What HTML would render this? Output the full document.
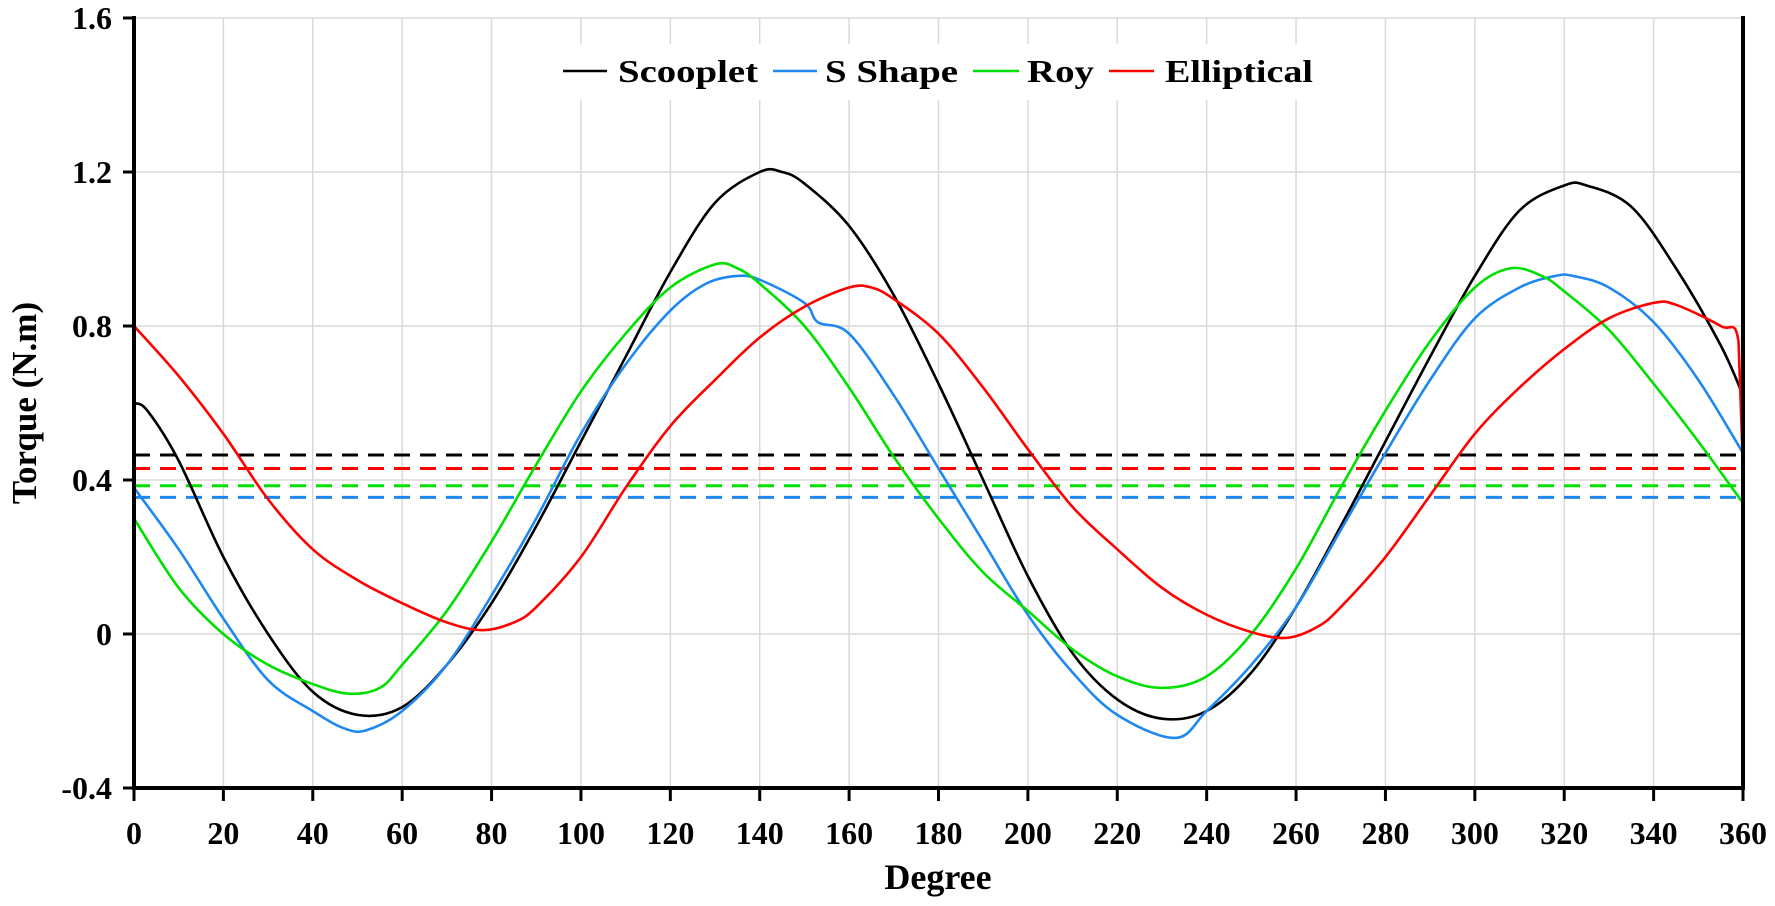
<!DOCTYPE html>
<html><head><meta charset="utf-8"><style>
html,body{margin:0;padding:0;background:#fff;}
svg{display:block;font-family:"Liberation Serif",serif;font-weight:bold;}
</style></head><body>
<svg id="c" width="1775" height="906" viewBox="0 0 1775 906" xmlns="http://www.w3.org/2000/svg">
<g id="grid" stroke="#d9d9d9" stroke-width="1.5"></g>
<g id="dash"></g>
<g id="series" fill="none" stroke-width="2.6" stroke-linejoin="round"></g>
<g id="axes"></g>
<rect x="545" y="44" width="790" height="56" fill="#fff"/>
<g font-size="32" font-family="Liberation Serif, serif" font-weight="bold">
<line x1="563" y1="71" x2="607" y2="71" stroke="#000" stroke-width="2.6"/>
<text x="618" y="82" textLength="140" lengthAdjust="spacingAndGlyphs">Scooplet</text>
<line x1="773" y1="71" x2="817" y2="71" stroke="#1e88f0" stroke-width="2.6"/>
<text x="825" y="82" textLength="133" lengthAdjust="spacingAndGlyphs">S Shape</text>
<line x1="973" y1="71" x2="1019" y2="71" stroke="#00e000" stroke-width="2.6"/>
<text x="1027" y="82" textLength="67" lengthAdjust="spacingAndGlyphs">Roy</text>
<line x1="1109" y1="71" x2="1154" y2="71" stroke="#ff0000" stroke-width="2.6"/>
<text x="1165" y="82" textLength="148" lengthAdjust="spacingAndGlyphs">Elliptical</text>
</g>
<text x="938" y="889" font-size="36" text-anchor="middle">Degree</text>
<text transform="translate(36,403) rotate(-90)" font-size="35" text-anchor="middle">Torque (N.m)</text>
</svg>
<script>
var X0=134,X1=1743,Y0=634,PY=385;
function sx(d){return X0+(X1-X0)*d/360;}
function sy(v){return Y0-v*PY;}
var NS="http://www.w3.org/2000/svg";
function el(p,t,a,txt){var e=document.createElementNS(NS,t);for(var k in a)e.setAttribute(k,a[k]);if(txt!==undefined)e.textContent=txt;document.getElementById(p).appendChild(e);return e;}
for(var d=20;d<=340;d+=20)el("grid","line",{x1:sx(d),x2:sx(d),y1:sy(1.6),y2:sy(-0.4)});
for(var v=-0.4;v<=1.61;v+=0.4){if(Math.abs(v+0.4)<1e-6)continue;el("grid","line",{x1:X0,x2:X1,y1:sy(v),y2:sy(v)});}
var dl=[[0.465,"#000"],[0.43,"#ff0000"],[0.385,"#00e000"],[0.355,"#1e88f0"]];
dl.forEach(function(q){el("dash","line",{x1:X0,x2:X1,y1:sy(q[0]),y2:sy(q[0]),stroke:q[1],"stroke-width":3,"stroke-dasharray":"16,10"});});
var S={
"#000":[[0,0.6],[3,0.58],[10,0.45],[20,0.2],[30,0.0],[40,-0.15],[50,-0.21],[60,-0.19],[70,-0.08],[80,0.08],[90,0.28],[100,0.5],[110,0.72],[120,0.94],[130,1.12],[140,1.2],[145,1.2],[150,1.17],[160,1.06],[170,0.88],[180,0.65],[190,0.4],[200,0.15],[210,-0.05],[220,-0.17],[230,-0.22],[240,-0.2],[250,-0.1],[260,0.07],[270,0.28],[280,0.5],[290,0.72],[300,0.93],[310,1.1],[320,1.165],[325,1.165],[335,1.11],[345,0.95],[355,0.75],[360,0.62]],
"#1e88f0":[[0,0.38],[10,0.22],[20,0.04],[30,-0.12],[40,-0.2],[47,-0.245],[52,-0.25],[60,-0.2],[70,-0.08],[80,0.1],[90,0.3],[100,0.52],[110,0.7],[120,0.84],[128,0.91],[135,0.93],[140,0.92],[150,0.86],[153,0.81],[160,0.78],[170,0.62],[180,0.43],[190,0.24],[200,0.05],[210,-0.1],[220,-0.21],[233,-0.27],[240,-0.2],[250,-0.08],[260,0.07],[270,0.27],[280,0.47],[290,0.66],[300,0.82],[310,0.9],[318,0.93],[322,0.93],[330,0.9],[340,0.81],[350,0.66],[360,0.47]],
"#00e000":[[0,0.3],[10,0.12],[20,0.0],[30,-0.08],[40,-0.13],[48,-0.155],[55,-0.14],[60,-0.08],[70,0.06],[80,0.24],[90,0.44],[100,0.63],[110,0.78],[120,0.9],[130,0.96],[135,0.95],[140,0.91],[150,0.8],[160,0.64],[170,0.46],[180,0.3],[190,0.16],[200,0.06],[210,-0.04],[220,-0.11],[230,-0.14],[240,-0.11],[250,0.0],[260,0.17],[270,0.38],[280,0.58],[290,0.76],[300,0.9],[308,0.95],[315,0.93],[320,0.89],[330,0.79],[340,0.65],[350,0.5],[360,0.34]],
"#ff0000":[[0,0.8],[10,0.67],[20,0.52],[30,0.35],[40,0.22],[50,0.14],[60,0.08],[70,0.03],[78,0.01],[85,0.03],[90,0.07],[100,0.2],[110,0.38],[120,0.54],[130,0.66],[140,0.77],[150,0.85],[160,0.9],[165,0.9],[170,0.87],[180,0.78],[190,0.64],[200,0.48],[210,0.33],[220,0.22],[230,0.12],[240,0.05],[250,0.005],[258,-0.01],[265,0.02],[270,0.07],[280,0.2],[290,0.36],[300,0.52],[310,0.64],[320,0.74],[330,0.82],[340,0.86],[345,0.855],[355,0.8],[359,0.76],[360,0.43]]};
for(var c in S){var p=S[c].map(function(a){return [sx(a[0]),sy(a[1])];});var s="M"+p[0][0]+","+p[0][1];
for(var i=0;i<p.length-1;i++){var a=p[i>0?i-1:0],b=p[i],n=p[i+1],m=p[i+2<p.length?i+2:i+1];
if(i==p.length-2&&c=="#ff0000"){s+=" L"+n[0]+","+n[1];continue;}
s+=" C"+(b[0]+(n[0]-a[0])/6)+","+(b[1]+(n[1]-a[1])/6)+" "+(n[0]-(m[0]-b[0])/6)+","+(n[1]-(m[1]-b[1])/6)+" "+n[0]+","+n[1];}
el("series","path",{d:s,stroke:c});}
el("axes","line",{x1:X0,x2:X0,y1:sy(1.6)-2,y2:sy(-0.4)+2,stroke:"#000","stroke-width":4});
el("axes","line",{x1:X1,x2:X1,y1:sy(1.6)-2,y2:sy(-0.4)+2,stroke:"#000","stroke-width":4});
el("axes","line",{x1:X0-2,x2:X1+2,y1:sy(-0.4),y2:sy(-0.4),stroke:"#000","stroke-width":4});
for(var d=0;d<=360;d+=20){el("axes","line",{x1:sx(d),x2:sx(d),y1:sy(-0.4),y2:sy(-0.4)+13,stroke:"#000","stroke-width":3});
el("axes","text",{x:sx(d),y:844,"font-size":32,"text-anchor":"middle"},""+d);}
var yl=["-0.4","0","0.4","0.8","1.2","1.6"];
for(var i=0;i<6;i++){var v=-0.4+0.4*i;el("axes","line",{x1:X0-11,x2:X0,y1:sy(v),y2:sy(v),stroke:"#000","stroke-width":3});
el("axes","text",{x:112,y:sy(v)+11,"font-size":32,"text-anchor":"end"},yl[i]);}
</script>
</body></html>
